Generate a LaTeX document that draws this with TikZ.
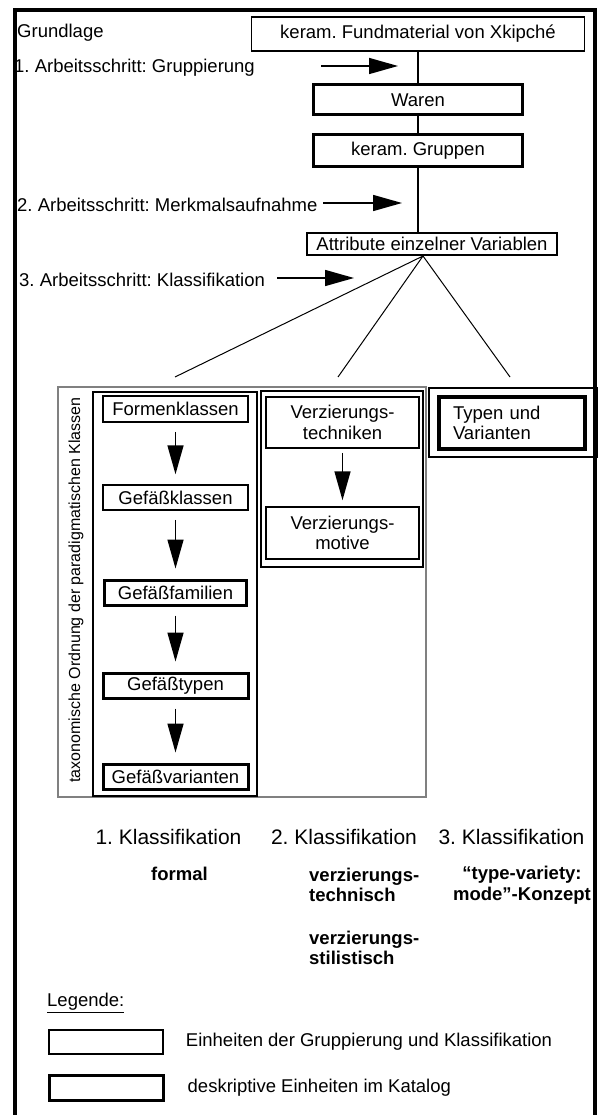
\documentclass[tikz,border=0pt]{standalone}
\usepackage{fontspec}
\setmainfont{Liberation Sans}
\usetikzlibrary{arrows.meta, positioning}
\frenchspacing
\newcommand\diagfont{\fontsize{18.5}{20.5}\selectfont}
\newcommand\headfont{\fontsize{21}{24}\selectfont}
\newcommand\sidefont{\fontsize{16}{18}\selectfont}

\begin{document}
\begin{tikzpicture}[x=1pt, y=-1pt, font=\diagfont,
  unitbox/.style={draw, line width=1.5pt, inner sep=0pt, font=\diagfont},
  catbox/.style={draw, line width=3pt, inner sep=0pt, font=\diagfont},
  colbox/.style={draw, line width=2pt, inner sep=0pt},
  plain/.style={inner sep=0pt, font=\diagfont},
  steparrow/.style={-{Triangle[length=29pt, width=16pt]}, line width=1.5pt},
  fanline/.style={line width=1pt}]

  \useasboundingbox (0,0) rectangle (603,1115);

  % Frame
  \draw[line width=4pt] (15,1115) -- (15,10) -- (595,10) -- (595,1115);

  % Grouping chain
  \node[unitbox, minimum width=333pt, minimum height=34pt] (fund) at (418,34) {keram. Fundmaterial von Xkipché};
  \node[catbox, minimum width=209pt, minimum height=30pt] (waren) at (418,100) {Waren};
  \node[catbox, minimum width=209pt, minimum height=32pt] (gruppen) at (418,151) {keram. Gruppen};
  \node[unitbox, minimum width=250pt, minimum height=22pt] (attr) at (432,244) {Attribute einzelner Variablen};

  \draw[line width=1.5pt] (fund) -- (waren);
  \draw[line width=1.5pt] (waren) -- (gruppen);
  \draw[line width=1.5pt] (gruppen) -- (gruppen.south |- attr.north);

  % Work steps
  \node[plain, anchor=west] (basis) at (17,33) {Grundlage};
  \node[plain, anchor=west] (step1) at (14,68) {1. Arbeitsschritt: Gruppierung};
  \node[plain, anchor=west] (step2) at (17,205) {2. Arbeitsschritt: Merkmalsaufnahme};
  \node[plain, anchor=west] (step3) at (19,280) {3. Arbeitsschritt: Klassifikation};

  \coordinate (s1a) at (321,66);
  \coordinate (s1b) at (398,66);
  \coordinate (s2a) at (323,203);
  \coordinate (s2b) at (402,203);
  \coordinate (s3a) at (277,278);
  \coordinate (s3b) at (354,278);
  \draw[steparrow] (s1a) -- (s1b);
  \draw[steparrow] (s2a) -- (s2b);
  \draw[steparrow] (s3a) -- (s3b);

  % Fan to the three classifications
  \coordinate (fan) at (423,256);
  \coordinate (fan1) at (175,377);
  \coordinate (fan2) at (338,377);
  \coordinate (fan3) at (510,377);
  \draw[fanline] (fan1) -- (fan) -- (fan2);
  \draw[fanline] (fan) -- (fan3);

  % Taxonomic order
  \node[draw=gray, line width=2.5pt, inner sep=0pt, minimum width=368pt, minimum height=410pt] (taxo) at (242,592) {};
  \node[plain, font=\sidefont, rotate=90] (taxolabel) at (76,590) {taxonomische Ordnung der paradigmatischen Klassen};

  % 1. Klassifikation
  \node[colbox, minimum width=164pt, minimum height=404pt] (col1) at (175,594) {};
  \node[unitbox, minimum width=145pt, minimum height=26pt] (formen) at (175.5,409) {Formenklassen};
  \node[unitbox, minimum width=145pt, minimum height=25pt] (klassen) at (175.5,497.5) {Gefäßklassen};
  \node[catbox, minimum width=142pt, minimum height=25pt] (familien) at (175.5,592.5) {Gefäßfamilien};
  \node[catbox, minimum width=145pt, minimum height=25pt] (typen) at (175.5,685.5) {Gefäßtypen};
  \node[catbox, minimum width=145pt, minimum height=25pt] (varianten) at (175.5,776.5) {Gefäßvarianten};

  \draw[steparrow, shorten <=9pt, shorten >=10pt] (formen) -- (klassen);
  \draw[steparrow, shorten <=9pt, shorten >=10pt] (klassen) -- (familien);
  \draw[steparrow, shorten <=9pt, shorten >=10pt] (familien) -- (typen);
  \draw[steparrow, shorten <=9pt, shorten >=10pt] (typen) -- (varianten);

  % 2. Klassifikation
  \node[colbox, minimum width=162pt, minimum height=176pt] (col2) at (342,479) {};
  \node[unitbox, minimum width=153pt, minimum height=51pt, align=center] (techn) at (342.5,422.5) {Verzierungs-\\techniken};
  \node[unitbox, minimum width=153pt, minimum height=52pt, align=center] (motive) at (342.5,533) {Verzierungs-\\motive};
  \draw[steparrow, shorten <=4pt, shorten >=6pt] (techn) -- (motive);

  % 3. Klassifikation
  \node[colbox, minimum width=168pt, minimum height=69pt] (col3) at (513,422.5) {};
  \node[catbox, line width=3.5pt, minimum width=146pt, minimum height=52pt, text width=118pt, inner xsep=14pt, align=left] (tv) at (512,423) {Typen und\\Varianten};

  % Headings
  \node[plain, font=\headfont] (klass1) at (168.5,837) {1. Klassifikation};
  \node[plain, font=\headfont] (klass2) at (344,837) {2. Klassifikation};
  \node[plain, font=\headfont] (klass3) at (511.5,837) {3. Klassifikation};

  \node[plain, font=\diagfont\bfseries] (formal) at (179.5,874) {formal};
  \node[plain, font=\diagfont\bfseries, align=left, anchor=west] (technisch) at (309,885) {verzierungs-\\technisch};
  \node[plain, font=\diagfont\bfseries, align=left, anchor=west] (stilistisch) at (309,948) {verzierungs-\\stilistisch};
  \node[plain, font=\diagfont\bfseries, align=center] (konzept) at (522,885) {“type-variety:\\mode”-Konzept};

  % Legend
  \node[plain, anchor=west] (legende) at (47,1003) {\underline{Legende:}};
  \node[unitbox, minimum width=114pt, minimum height=24pt] (leg1) at (106,1042) {};
  \node[plain, right=22pt of leg1] (leg1text) {Einheiten der Gruppierung und Klassifikation};
  \node[catbox, minimum width=114pt, minimum height=25pt] (leg2) at (106,1087.5) {};
  \node[plain, right=23pt of leg2] (leg2text) {deskriptive Einheiten im Katalog};
\end{tikzpicture}
\end{document}
